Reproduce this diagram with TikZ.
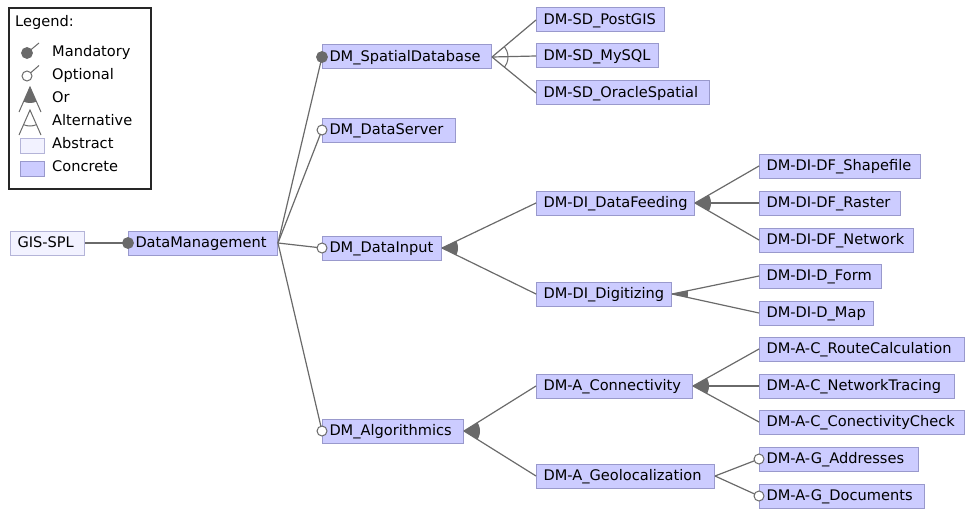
\documentclass[tikz,border=0pt]{standalone}
\usepackage{fontspec}
\setmainfont{DejaVu Sans}
\definecolor{concrete}{HTML}{CCCCFF}
\definecolor{abstract}{HTML}{F2F2FF}
\definecolor{featborder}{HTML}{9999CC}
\definecolor{absborder}{HTML}{B4B4D8}
\definecolor{edgegray}{HTML}{6A6A6A}
\newcommand\featfont{\fontsize{14.6}{17}\selectfont\exhyphenpenalty=10000\hyphenpenalty=10000\relax}
\tikzset{
  feat/.style={draw=featborder, fill=concrete, line width=1pt, anchor=west,
    minimum height=24pt, inner xsep=7pt, inner ysep=0pt, text width=#1pt,
    align=left, text height=11pt, text depth=2pt, font=\featfont},
  absfeat/.style={feat=#1, fill=abstract, draw=absborder},
  legtext/.style={anchor=west, inner sep=0pt, text height=11pt, text depth=2pt,
    font=\featfont},
  conn/.style={draw=edgegray, line width=1.2pt},
  mandatory/.style={fill=edgegray, draw=edgegray, line width=0.8pt},
  optional/.style={fill=white, draw=edgegray, line width=1pt},
}
% filled sector of an or-group / arc of an alternative-group
\newcommand\orgroup[3]{\begin{scope}\clip (#1) -- (#2) -- (#3) -- cycle;
  \fill[edgegray] (#1) circle (16pt);\end{scope}}
\newcommand\altgroup[3]{\begin{scope}\clip (#1) -- (#2) -- (#3) -- cycle;
  \draw[edgegray, line width=1pt] (#1) circle (16pt);\end{scope}}

\begin{document}
\begin{tikzpicture}[x=1pt,y=-1pt]
\useasboundingbox (0,0) rectangle (965,508);

% ---------- legend ----------
\draw[black!85, line width=1.1pt] (9,8) rectangle (151,189);
\node[legtext] (lgtitle) at (15,22) {Legend:};
\coordinate (lmand) at (27,53);
\draw[edgegray, line width=1pt] (lmand) -- ++(12,-10);
\fill[mandatory] (lmand) circle (5.5pt);
\node[legtext] (lgmand) at (52,52) {Mandatory};
\coordinate (lopt) at (27,76);
\draw[edgegray, line width=1pt] (lopt) ++(4,-3.5) -- ++(8,-7);
\draw[optional] (lopt) circle (5pt);
\node[legtext] (lgopt) at (52,75) {Optional};
\coordinate (lora) at (30,87);
\coordinate (lorl) at (19,112);
\coordinate (lorr) at (41,112);
\draw[edgegray, line width=1pt] (lorl) -- (lora) -- (lorr);
\orgroup{lora}{lorl}{lorr}
\node[legtext] (lgor) at (52,98) {Or};
\coordinate (lalta) at (30,110);
\coordinate (laltl) at (19,135);
\coordinate (laltr) at (41,135);
\draw[edgegray, line width=1pt] (laltl) -- (lalta) -- (laltr);
\altgroup{lalta}{laltl}{laltr}
\node[legtext] (lgalt) at (52,121) {Alternative};
\draw[absborder, fill=abstract, line width=1pt] (20,138) rectangle (44,153);
\node[legtext] (lgabs) at (52,144) {Abstract};
\draw[featborder, fill=concrete, line width=1pt] (20,161) rectangle (44,176);
\node[legtext] (lgcon) at (52,167) {Concrete};

% ---------- features ----------
\node[absfeat=60] (gis) at (10,243) {GIS-SPL};
\node[feat=135] (dm) at (128,243) {DataManagement};

\node[feat=155] (sd) at (322,57) {DM\_SpatialDatabase};
\node[feat=119] (dsrv) at (322,130) {DM\_DataServer};
\node[feat=105] (din) at (322,248) {DM\_DataInput};
\node[feat=127] (alg) at (322,431) {DM\_Algorithmics};

\node[feat=114] (pg) at (536,20) {DM-SD\_PostGIS};
\node[feat=108] (my) at (536,56) {DM-SD\_MySQL};
\node[feat=159] (ora) at (536,93) {DM-SD\_OracleSpatial};

\node[feat=144] (feed) at (536,203) {DM-DI\_DataFeeding};
\node[feat=121] (dig) at (536,294) {DM-DI\_Digitizing};

\node[feat=147] (shp) at (759,166) {DM-DI-DF\_Shapefile};
\node[feat=127] (ras) at (759,203) {DM-DI-DF\_Raster};
\node[feat=140] (net) at (759,240) {DM-DI-DF\_Network};
\node[feat=108] (form) at (759,276) {DM-DI-D\_Form};
\node[feat=100] (map) at (759,313) {DM-DI-D\_Map};

\node[feat=142] (con) at (536,386) {DM-A\_Connectivity};
\node[feat=164] (geo) at (536,476) {DM-A\_Geolocalization};

\node[feat=191] (route) at (759,349) {DM-A-C\_RouteCalculation};
\node[feat=181] (trace) at (759,386) {DM-A-C\_NetworkTracing};
\node[feat=191] (check) at (759,422) {DM-A-C\_ConectivityCheck};
\node[feat=145] (addr) at (759,459) {DM-A-G\_Addresses};
\node[feat=151] (docs) at (759,496) {DM-A-G\_Documents};

% ---------- connectors ----------
\draw[conn] (gis.east) -- (dm.west);
\foreach \c in {sd,dsrv,din,alg} \draw[conn] (dm.east) -- (\c.west);
\foreach \c in {pg,my,ora} \draw[conn] (sd.east) -- (\c.west);
\foreach \c in {feed,dig} \draw[conn] (din.east) -- (\c.west);
\foreach \c in {shp,ras,net} \draw[conn] (feed.east) -- (\c.west);
\foreach \c in {form,map} \draw[conn] (dig.east) -- (\c.west);
\foreach \c in {con,geo} \draw[conn] (alg.east) -- (\c.west);
\foreach \c in {route,trace,check} \draw[conn] (con.east) -- (\c.west);
\foreach \c in {addr,docs} \draw[conn] (geo.east) -- (\c.west);

% ---------- group markers ----------
\altgroup{sd.east}{pg.west}{ora.west}
\orgroup{din.east}{feed.west}{dig.west}
\orgroup{feed.east}{shp.west}{net.west}
\orgroup{dig.east}{form.west}{map.west}
\orgroup{alg.east}{con.west}{geo.west}
\orgroup{con.east}{route.west}{check.west}

% ---------- mandatory / optional markers ----------
\fill[mandatory] (dm.west) circle (5.5pt);
\fill[mandatory] (sd.west) circle (5.5pt);
\draw[optional] (dsrv.west) circle (5pt);
\draw[optional] (din.west) circle (5pt);
\draw[optional] (alg.west) circle (5pt);
\draw[optional] (addr.west) circle (5pt);
\draw[optional] (docs.west) circle (5pt);
\end{tikzpicture}
\end{document}
